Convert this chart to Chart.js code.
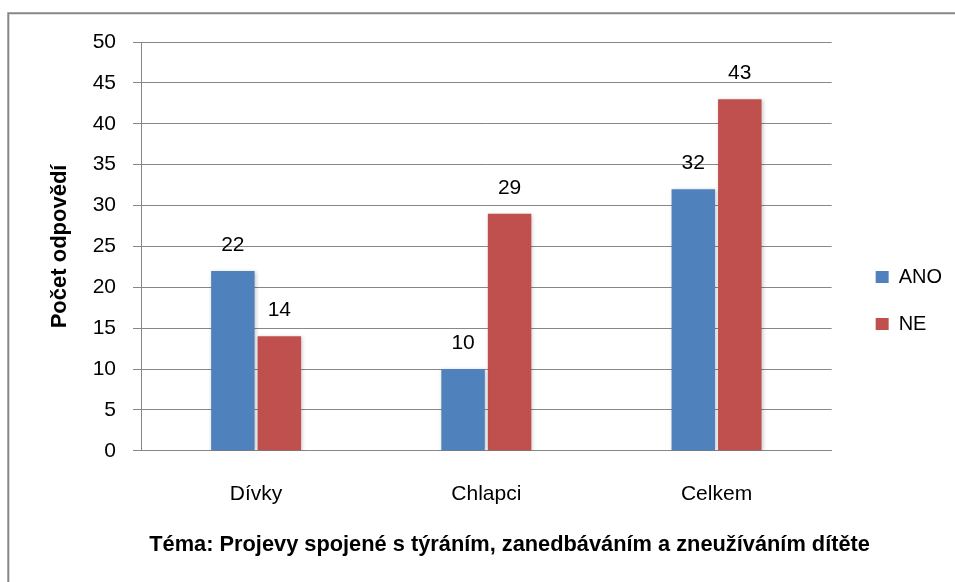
<!DOCTYPE html>
<html>
<head>
<meta charset="utf-8">
<script src="https://cdn.jsdelivr.net/npm/chart.js@4"></script>
<style>
  html, body { margin: 0; padding: 0; background: #fff; }
  #wrap { width: 955px; height: 582px; }
</style>
</head>
<body>
<div id="wrap"><canvas id="myChart" width="955" height="582"></canvas></div>
<script>
// DATA
const categories = ["Dívky", "Chlapci", "Celkem"];
const anoValues = [22, 10, 32];
const neValues = [14, 29, 43];
const seriesNames = ["ANO", "NE"];
const yTicks = [0, 5, 10, 15, 20, 25, 30, 35, 40, 45, 50];
const yTitle = "Počet odpovědí";
const xTitle = "Téma: Projevy spojené s týráním, zanedbáváním a zneužíváním dítěte";

const ctx = document.querySelector("#myChart");
const FONT = "'Liberation Sans', Arial, sans-serif";

// white background + frame (only top and left edge are inside the picture)
const framePlugin = {
  id: "frame",
  beforeDraw(chart) {
    const c = chart.ctx;
    c.save();
    c.fillStyle = "#fff";
    c.fillRect(0, 0, chart.width, chart.height);
    c.strokeStyle = "#878787";
    c.lineWidth = 2;
    c.beginPath();
    c.moveTo(chart.width, 13.3);
    c.lineTo(8.3, 13.3);
    c.lineTo(8.3, chart.height);
    c.stroke();
    c.restore();
  },
};

// soft shadow under bars
const shadowPlugin = {
  id: "barShadow",
  beforeDatasetsDraw(chart) {
    const c = chart.ctx;
    c.save();
    c.shadowColor = "rgba(0,0,0,0.22)";
    c.shadowBlur = 4;
    c.shadowOffsetX = 1;
    c.shadowOffsetY = 1;
  },
  afterDatasetsDraw(chart) {
    chart.ctx.restore();
  },
};

// value labels above bars
const valueLabels = {
  id: "valueLabels",
  afterDatasetsDraw(chart) {
    const c = chart.ctx;
    c.save();
    c.font = "21px " + FONT;
    c.fillStyle = "#000";
    c.textAlign = "center";
    c.textBaseline = "alphabetic";
    chart.data.datasets.forEach((ds, i) => {
      chart.getDatasetMeta(i).data.forEach((bar, j) => {
        c.fillText(ds.data[j], bar.x, bar.y - 20);
      });
    });
    c.restore();
  },
};

new Chart(ctx, {
  type: "bar",
  data: {
    labels: categories,
    datasets: [
      {
        label: seriesNames[0],
        data: anoValues,
        backgroundColor: "#4F81BD",
        categoryPercentage: 0.404,
        barPercentage: 0.935,
      },
      {
        label: seriesNames[1],
        data: neValues,
        backgroundColor: "#C0504D",
        categoryPercentage: 0.404,
        barPercentage: 0.935,
      },
    ],
  },
  options: {
    responsive: false,
    animation: false,
    layout: { padding: { left: 43, top: 42, right: 3, bottom: 23 } },
    plugins: {
      tooltip: { enabled: false },
      title: {
        display: true,
        position: "bottom",
        fullSize: true,
        // leading spaces nudge the centred title right, as in the original
        text: "    " + xTitle,
        color: "#000",
        padding: { top: 0, bottom: 1 },
        font: { family: FONT, size: 21.8, weight: "bold" },
      },
      legend: {
        position: "right",
        labels: {
          boxWidth: 13,
          boxHeight: 12,
          padding: 27,
          color: "#000",
          font: { family: FONT, size: 20 },
        },
      },
    },
    scales: {
      x: {
        grid: { display: false },
        border: { display: true, color: "#878787" },
        ticks: { color: "#000", padding: 23, font: { family: FONT, size: 21 } },
        afterFit(s) { s.height = 81; },
      },
      y: {
        min: 0,
        max: 50,
        afterBuildTicks(s) { s.ticks = yTicks.map((v) => ({ value: v })); },
        grid: { color: "#878787", tickLength: 8 },
        border: { color: "#878787" },
        ticks: { color: "#000", padding: 17, font: { family: FONT, size: 21 } },
        title: {
          display: true,
          text: yTitle,
          color: "#000",
          font: { family: FONT, size: 22, weight: "bold" },
        },
        afterFit(s) { s.width = 98; },
      },
      gap: {
        type: "linear",
        position: "right",
        display: true,
        grid: { display: false },
        border: { display: false },
        ticks: { display: false },
        afterFit(s) { s.width = 17; },
      },
    },
  },
  plugins: [framePlugin, shadowPlugin, valueLabels],
});
</script>
</body>
</html>
